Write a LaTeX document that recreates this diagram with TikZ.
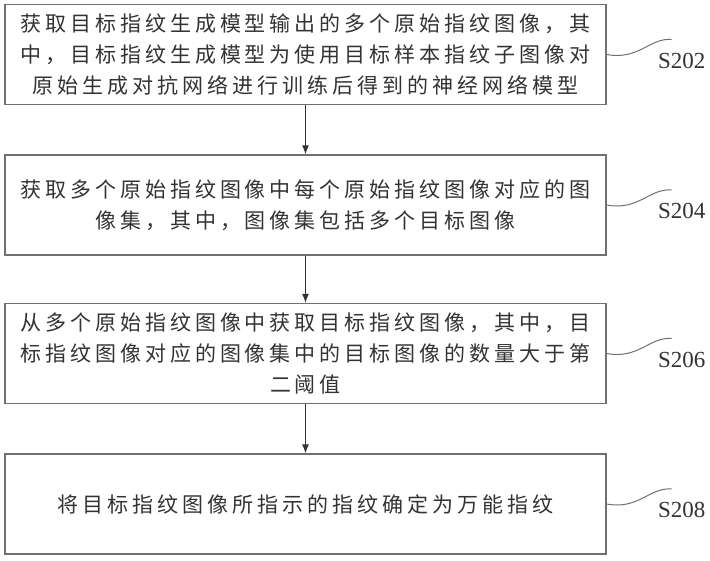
\documentclass[tikz,border=0pt]{standalone}
\usepackage{fontspec}
\usetikzlibrary{arrows.meta,calc}
\newfontfamily\cjk[LetterSpace=19]{Noto Sans CJK SC}
\newfontfamily\stepfont{Liberation Serif}
\definecolor{ink}{HTML}{333333}
\definecolor{frame}{HTML}{707070}
\newcommand{\flowstep}[3]{%
  \node[draw=frame,line width=1.4pt,fill=white,minimum width=601pt,
        minimum height=100pt,inner sep=0pt,align=center,text=ink,
        font=\cjk\fontsize{21}{31}\selectfont]
       (#1) at #2 {#3};}

\begin{document}
\begin{tikzpicture}[x=1pt,y=-1pt]
  \useasboundingbox (0,0) rectangle (710,561);

  % the four steps
  \flowstep{s202}{(305.5,54.5)}{获取目标指纹生成模型输出的多个原始指纹图像，其\\
    中，目标指纹生成模型为使用目标样本指纹子图像对\\
    原始生成对抗网络进行训练后得到的神经网络模型}
  \flowstep{s204}{(305.5,205)}{获取多个原始指纹图像中每个原始指纹图像对应的图\\
    像集，其中，图像集包括多个目标图像}
  \flowstep{s206}{(305.5,353.5)}{从多个原始指纹图像中获取目标指纹图像，其中，目\\
    标指纹图像对应的图像集中的目标图像的数量大于第\\
    二阈值}
  \flowstep{s208}{(305.5,504)}{将目标指纹图像所指示的指纹确定为万能指纹}

  \begin{scope}[-{Latex[length=9pt,width=7pt]},ink,line width=1pt]
    \draw (s202) -- (s204);
    \draw (s204) -- (s206);
    \draw (s206) -- (s208);
  \end{scope}

  % step numbers with the wavy leaders
  \foreach \n in {202,204,206,208}{
    \node[font=\stepfont\fontsize{23}{23}\selectfont,text=ink]
         (l\n) at ($(s\n.east)+(75,6)$) {S\n};
    \coordinate (w\n) at ($(s\n.east)+(65,-15)$);
    \draw[frame,line width=1pt] (s\n.east) .. controls +(32,6) and +(-22,-2) .. (w\n);}
\end{tikzpicture}
\end{document}
